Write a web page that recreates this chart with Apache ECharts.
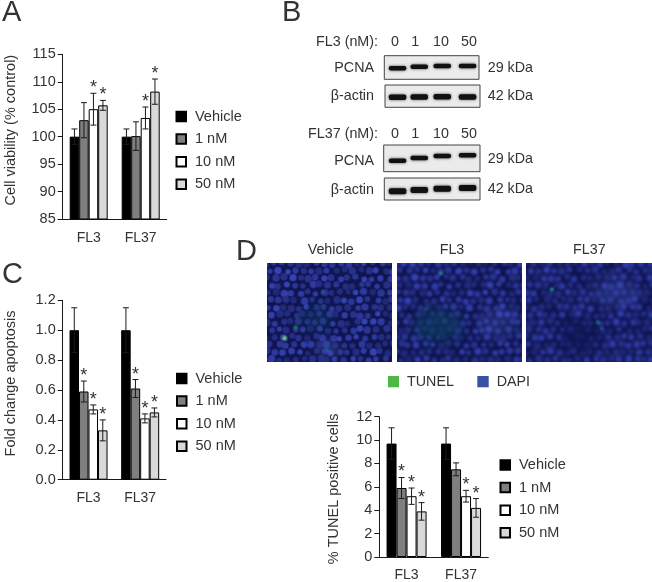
<!DOCTYPE html>
<html><head><meta charset="utf-8">
<script src="https://cdn.jsdelivr.net/npm/echarts@6/dist/echarts.min.js"></script>
<style>html,body{margin:0;padding:0;background:#fff}#c{width:652px;height:582px}</style>
</head><body><div id="c"></div>
<script>
var groups = ['FL3', 'FL37'];
var doses = ['Vehicle', '1 nM', '10 nM', '50 nM'];
var colors = ['#000000', '#7f7f7f', '#ffffff', '#d9d9d9'];

var viabilityValues = [[100, 103, 105, 105.7], [100, 100.1, 103.4, 108.2]];
var viabilityErrors = [[1.4, 3.2, 2.9, 0.9], [1.4, 2.6, 2.0, 2.3]];
var viabilityStars  = [[0, 0, 1, 1], [0, 0, 1, 1]];

var apoptosisValues = [[1.0, 0.59, 0.47, 0.33], [1.0, 0.61, 0.41, 0.45]];
var apoptosisErrors = [[0.15, 0.07, 0.03, 0.07], [0.15, 0.06, 0.03, 0.03]];
var apoptosisStars  = [[0, 1, 1, 1], [0, 1, 1, 1]];

var tunelValues = [[9.7, 5.9, 5.2, 3.9], [9.7, 7.5, 5.2, 4.2]];
var tunelErrors = [[1.35, 0.9, 0.7, 0.75], [1.35, 0.55, 0.5, 0.8]];
var tunelStars  = [[0, 1, 1, 1], [0, 0, 1, 1]];

var FONT = '"Liberation Sans", Arial, sans-serif';
var INK = '#333333';

var panels = [
  {vals: viabilityValues, errs: viabilityErrors, stars: viabilityStars, name: 'Cell viability (% control)',
   min: 85, max: 115, step: 5, digits: 0, left: 62.7, right: 166.7, top: 54.3, bottom: 219, barW: 9.5, nameGap: 44, namePad: 13, namePadR: 0, marginX: 12,
   legend: {left: 175.5, top: 109}},
  {vals: apoptosisValues, errs: apoptosisErrors, stars: apoptosisStars, name: 'Fold change apoptosis',
   min: 0, max: 1.2, step: 0.2, digits: 1, left: 62.7, right: 166, top: 300.3, bottom: 479.7, barW: 9.5, nameGap: 44, namePad: 13, namePadR: 0, marginX: 11,
   legend: {left: 176, top: 371}},
  {vals: tunelValues, errs: tunelErrors, stars: tunelStars, name: '% TUNEL positive cells',
   min: 0, max: 12, step: 2, digits: 0, left: 379.3, right: 488.3, top: 416.7, bottom: 557.7, barW: 10, nameGap: 38, namePad: 0, namePadR: 4, marginX: 11,
   legend: {left: 499.5, top: 457.5}}
];

var option = {
  animation: false,
  backgroundColor: '#ffffff',
  textStyle: {fontFamily: FONT, color: INK},
  grid: [], xAxis: [], yAxis: [], series: [], legend: [], graphic: {elements: []}
};

panels.forEach(function (p, pi) {
  option.grid.push({left: p.left, width: p.right - p.left, top: p.top, height: p.bottom - p.top, containLabel: false});
  option.xAxis.push({
    type: 'category', gridIndex: pi, data: groups,
    axisLine: {onZero: false, lineStyle: {color: '#1a1a1a', width: 1}},
    axisTick: {length: 4, lineStyle: {color: '#1a1a1a'}},
    axisLabel: {fontSize: 14, color: INK, margin: p.marginX, fontFamily: FONT}
  });
  option.yAxis.push({
    type: 'value', gridIndex: pi, min: p.min, max: p.max, interval: p.step,
    name: p.name, nameLocation: 'middle', nameGap: p.nameGap,
    nameTextStyle: {fontSize: 14.5, color: INK, fontFamily: FONT, padding: [0, p.namePadR, 0, p.namePad]},
    splitLine: {show: false},
    axisLine: {show: true, lineStyle: {color: '#1a1a1a', width: 1}},
    axisTick: {show: true, length: 5, lineStyle: {color: '#1a1a1a'}},
    axisLabel: {fontSize: 14.5, color: INK, margin: 7, fontFamily: FONT,
      formatter: function (v) { return v.toFixed(p.digits); }}
  });
  doses.forEach(function (d, di) {
    option.series.push({
      type: 'bar', name: d, xAxisIndex: pi, yAxisIndex: pi,
      data: p.vals.map(function (g) { return g[di]; }),
      barWidth: p.barW, barGap: '0%',
      itemStyle: {color: colors[di], borderColor: '#000', borderWidth: 1}
    });
  });
  var rows = [];
  p.vals.forEach(function (g, gi) {
    g.forEach(function (v, di) { rows.push([gi, v, p.errs[gi][di], p.stars[gi][di], di]); });
  });
  option.series.push({
    type: 'custom', name: 'error' + pi, xAxisIndex: pi, yAxisIndex: pi, data: rows,
    encode: {x: 0, y: 1}, clip: false, z: 5,
    renderItem: function (params, api) {
      var cx = api.coord([api.value(0), 0])[0] + (api.value(4) - 1.5) * p.barW;
      var v = api.value(1), e = api.value(2);
      var hi = api.coord([0, v + e])[1], lo = api.coord([0, v - e])[1];
      var st = {stroke: '#1a1a1a', lineWidth: 1, fill: null};
      var kids = [
        {type: 'line', shape: {x1: cx, y1: hi, x2: cx, y2: lo}, style: st},
        {type: 'line', shape: {x1: cx - 3, y1: hi, x2: cx + 3, y2: hi}, style: st},
        {type: 'line', shape: {x1: cx - 3, y1: lo, x2: cx + 3, y2: lo}, style: st}
      ];
      if (api.value(3)) {
        kids.push({type: 'text', x: cx, y: hi - 5,
          style: {text: '*', fill: INK, fontSize: 18, fontFamily: FONT, align: 'center', verticalAlign: 'middle'}});
      }
      return {type: 'group', children: kids};
    }
  });
  option.legend.push({
    data: doses, orient: 'vertical', left: p.legend.left, top: p.legend.top, padding: 0,
    icon: 'rect', itemWidth: 9.5, itemHeight: 9.5, itemGap: 7.6, selectedMode: false,
    textStyle: {fontSize: 14.5, lineHeight: 14, color: INK, fontFamily: FONT, padding: [0, 0, 0, 4]}
  });
});

/* ---- static annotation layer ---- */
var G = option.graphic.elements;
function txt(s, x, y, size, align) {
  G.push({type: 'text', x: x, y: y, silent: true,
    style: {text: s, fontSize: size || 14, fontFamily: FONT, fill: INK, align: align || 'left', verticalAlign: 'middle'}});
}
txt('A', 2, 13, 29); txt('B', 282, 13, 29); txt('C', 2, 275, 29); txt('D', 236, 252, 29);

/* Western blots */
var blotRows = [
  {x: 384.3, y: 55.7, w: 94.7, h: 23.6, t: 4.5, bands: [68.3, 66.7, 66, 66]},
  {x: 385,   y: 85,   w: 95,   h: 22.3, t: 5.5, bands: [97.3, 97, 96.7, 97]},
  {x: 383.7, y: 145,  w: 96.3, h: 26.7, t: 4.5, bands: [160.7, 158, 156, 155.3]},
  {x: 384.3, y: 178,  w: 95.7, h: 22,   t: 6,   bands: [191.3, 190, 188.7, 188]}
];
var laneX = [397.3, 419, 442, 467.3];
blotRows.forEach(function (r) {
  G.push({type: 'rect', silent: true, shape: {x: r.x, y: r.y, width: r.w, height: r.h},
    style: {fill: '#ebebeb', stroke: '#444', lineWidth: 1}});
  r.bands.forEach(function (by, i) {
    G.push({type: 'rect', silent: true, shape: {x: laneX[i] - 8.5, y: by - r.t / 2, width: 17.5, height: r.t, r: 2},
      style: {fill: '#111', shadowColor: 'rgba(0,0,0,0.7)', shadowBlur: 3}});
  });
});
[[41.7, 'FL3 (nM):'], [134.3, 'FL37 (nM):']].forEach(function (a) {
  txt(a[1], 378, a[0], 14.3, 'right');
  [['0', 395], ['1', 415.3], ['10', 441], ['50', 469]].forEach(function (c) { txt(c[0], c[1], a[0], 14.3, 'center'); });
});
[[68, 'PCNA', 68.3, '29 kDa'], [95.7, 'β-actin', 95.7, '42 kDa'],
 [161, 'PCNA', 158.7, '29 kDa'], [190, 'β-actin', 188.7, '42 kDa']].forEach(function (a) {
  txt(a[1], 374, a[0], 14.3, 'right');
  txt(a[3], 487.7, a[2], 14.3);
});

/* Microscopy tiles */
function hash(a, b) { var h = (a * 374761 + b * 668265) ^ (a * b * 1274); h = (h ^ (h >>> 7)) * 1597 & 65535; return h / 65535; }
function tile(seed, cellR, soft, darkZones, greens) {
  var W = 126, H = 99, cv = document.createElement('canvas');
  cv.width = W; cv.height = H;
  var c = cv.getContext('2d');
  c.fillStyle = '#10144f'; c.fillRect(0, 0, W, H);
  c.filter = 'blur(' + soft + 'px)';
  for (var j = -1; j < 14; j++) for (var i = -1; i < 17; i++) {
    var x = i * 8.2 + (j % 2) * 4 + (hash(i + seed, j) - 0.5) * 3.5;
    var y = j * 7.4 + (hash(j + seed, i + 9) - 0.5) * 3;
    var l = 0.6 + 0.4 * hash(i + 3, j + seed);
    c.fillStyle = 'rgb(' + Math.round(52 * l) + ',' + Math.round(66 * l) + ',' + Math.round(165 * l + 15) + ')';
    c.beginPath(); c.arc(x, y, cellR * (0.8 + 0.35 * hash(i, j + seed * 2)), 0, 7); c.fill();
  }
  c.filter = 'blur(6px)';
  darkZones.forEach(function (z) {
    c.fillStyle = z[3]; c.beginPath(); c.ellipse(z[0], z[1], z[2], z[2] * 0.7, 0, 0, 7); c.fill();
  });
  c.filter = 'blur(1.2px)';
  greens.forEach(function (g) {
    c.fillStyle = g[3]; c.beginPath(); c.arc(g[0], g[1], g[2], 0, 7); c.fill();
  });
  c.filter = 'none';
  return cv;
}
var tiles = [
  {x: 266.7, cv: tile(1, 3.3, 0.7,
    [[50, 55, 18, 'rgba(15,60,100,0.45)'], [62, 85, 12, 'rgba(70,90,180,0.5)']],
    [[18, 75, 2.2, '#7ff0a0'], [29, 64, 1.8, '#23b07a'], [56, 29, 1.3, '#1fa0b0'], [61, 87, 1.3, '#1f90c0']])},
  {x: 396.7, cv: tile(2, 3.3, 1.3,
    [[42, 62, 24, 'rgba(10,60,90,0.65)'], [100, 60, 20, 'rgba(60,80,170,0.35)']],
    [[44, 10, 1.6, '#20c0a0'], [29, 46, 1.6, '#157a70']])},
  {x: 526, cv: tile(3, 3.3, 1.4,
    [[55, 72, 22, 'rgba(15,20,80,0.6)'], [90, 30, 22, 'rgba(60,80,170,0.35)']],
    [[26, 26, 1.6, '#20e0c8'], [72, 59, 1.7, '#1a9a98'], [76, 65, 1.3, '#1a90a8']])}
];
tiles.forEach(function (t) {
  G.push({type: 'image', silent: true, style: {image: t.cv, x: t.x, y: 263.3, width: 125.6, height: 99}});
});
txt('Vehicle', 330.7, 250, 14.3, 'center'); txt('FL3', 452, 250, 14.3, 'center'); txt('FL37', 589.3, 250, 14.3, 'center');
G.push({type: 'rect', silent: true, shape: {x: 388, y: 376, width: 11, height: 11.3}, style: {fill: '#4cb848'}});
txt('TUNEL', 407, 382, 14.3);
G.push({type: 'rect', silent: true, shape: {x: 477.3, y: 376, width: 11.4, height: 11.3}, style: {fill: '#3953a4'}});
txt('DAPI', 496.7, 382, 14.3);

var chart = echarts.init(document.getElementById('c'), null, {renderer: 'canvas'});
chart.setOption(option);
</script></body></html>
